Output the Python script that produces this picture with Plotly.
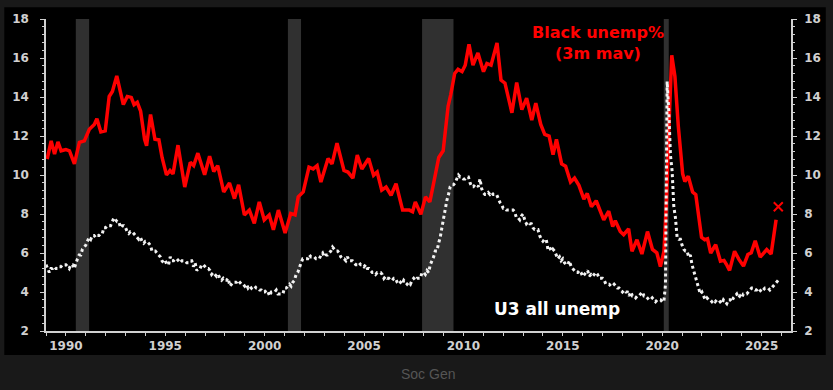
import plotly.graph_objects as go

# ---------------- data ----------------
# Black unemployment rate, 3m moving average, decimal years
black_x = [1989.06, 1989.26, 1989.43, 1989.60, 1989.76, 1990.00, 1990.18, 1990.43, 1990.68, 1990.93,
           1991.18, 1991.43, 1991.56, 1991.76, 1991.98, 1992.18, 1992.34, 1992.56, 1992.68, 1992.89,
           1993.09, 1993.29, 1993.43, 1993.59, 1993.76, 1993.96, 1994.06, 1994.26, 1994.48, 1994.68,
           1994.84, 1995.06, 1995.24, 1995.39, 1995.64, 1995.98, 1996.26, 1996.43, 1996.64, 1996.98,
           1997.23, 1997.44, 1997.64, 1997.94, 1998.23, 1998.48, 1998.69, 1998.98, 1999.23, 1999.48,
           1999.73, 1999.98, 2000.23, 2000.44, 2000.69, 2001.03, 2001.31, 2001.53, 2001.69, 2001.94,
           2002.23, 2002.44, 2002.64, 2002.83, 2003.19, 2003.39, 2003.64, 2003.99, 2004.19, 2004.44,
           2004.66, 2004.89, 2005.23, 2005.48, 2005.66, 2005.89, 2006.11, 2006.36, 2006.61, 2006.94,
           2007.28, 2007.44, 2007.58, 2007.86, 2008.09, 2008.31, 2008.53, 2008.76, 2008.98, 2009.23,
           2009.36, 2009.56, 2009.73, 2009.93, 2010.09, 2010.28, 2010.48, 2010.73, 2011.01, 2011.18,
           2011.39, 2011.69, 2011.89, 2012.09, 2012.44, 2012.68, 2012.94, 2013.18, 2013.44, 2013.64,
           2013.89, 2014.09, 2014.31, 2014.51, 2014.68, 2014.94, 2015.14, 2015.39, 2015.59, 2015.81,
           2016.06, 2016.23, 2016.44, 2016.68, 2017.06, 2017.31, 2017.51, 2017.64, 2017.89, 2018.06,
           2018.31, 2018.48, 2018.73, 2018.98, 2019.26, 2019.51, 2019.73, 2019.91, 2020.09, 2020.22,
           2020.36, 2020.48, 2020.64, 2020.81, 2021.03, 2021.14, 2021.31, 2021.53, 2021.69, 2021.86,
           2021.98, 2022.14, 2022.28, 2022.44, 2022.69, 2022.93, 2023.11, 2023.23, 2023.39, 2023.64,
           2023.86, 2024.09, 2024.31, 2024.48, 2024.68, 2024.93, 2025.09, 2025.26, 2025.48, 2025.73]
black_y = [10.82, 11.75, 11.07, 11.70, 11.24, 11.30, 11.24, 10.57, 11.67, 11.75,
           12.34, 12.59, 12.88, 12.21, 12.26, 14.03, 14.28, 15.08, 14.54, 13.61,
           14.03, 13.98, 13.61, 13.73, 13.27, 11.83, 11.50, 13.10, 11.83, 11.80,
           10.90, 10.01, 10.23, 10.06, 11.53, 9.38, 10.65, 10.48, 11.12, 10.01,
           10.96, 10.18, 10.48, 9.13, 9.59, 8.79, 9.50, 7.95, 8.20, 7.52,
           8.62, 7.70, 7.95, 7.19, 8.20, 7.02, 8.03, 7.95, 8.88, 9.13,
           10.40, 10.31, 10.48, 9.64, 10.85, 10.57, 11.63, 10.23, 10.15, 9.84,
           11.02, 10.31, 10.85, 9.98, 10.15, 9.22, 9.38, 8.96, 9.55, 8.20,
           8.20, 8.12, 8.62, 7.98, 8.88, 8.62, 9.72, 10.90, 11.24, 13.53,
           14.11, 15.21, 15.42, 15.30, 15.63, 16.70, 15.63, 16.26, 15.30, 15.72,
           15.63, 16.77, 14.87, 14.71, 13.19, 14.74, 13.35, 13.94, 12.82, 13.69,
           12.59, 12.08, 12.00, 11.04, 11.83, 10.57, 10.45, 9.64, 9.84, 9.47,
           8.76, 9.05, 8.37, 8.68, 7.70, 8.15, 7.36, 7.65, 7.10, 6.94,
           7.24, 6.09, 6.68, 5.95, 7.10, 6.18, 6.01, 5.30, 6.09, 8.79,
           13.02, 16.14, 15.05, 12.51, 10.06, 9.67, 9.94, 9.13, 8.99, 7.78,
           6.80, 6.68, 6.73, 6.00, 6.43, 5.58, 5.62, 5.42, 5.11, 6.09,
           5.67, 5.33, 5.92, 6.01, 6.63, 5.79, 6.01, 6.18, 5.95, 7.70]

# Latest single-month Black unemployment reading (the "x")
latest_x = [2025.84]
latest_y = [8.37]

# U3 unemployment rate, monthly Jan 1989 .. Nov 2025 (Oct 2025 missing)
u3_years = list(range(1989, 2026))
u3_by_year = [
    [5.4, 5.2, 5.0, 5.2, 5.2, 5.3, 5.2, 5.2, 5.3, 5.3, 5.4, 5.4],
    [5.4, 5.3, 5.2, 5.4, 5.4, 5.2, 5.5, 5.7, 5.9, 5.9, 6.2, 6.3],
    [6.4, 6.6, 6.8, 6.7, 6.9, 6.9, 6.8, 6.9, 6.9, 7.0, 7.0, 7.3],
    [7.3, 7.4, 7.4, 7.4, 7.6, 7.8, 7.7, 7.6, 7.6, 7.3, 7.4, 7.4],
    [7.3, 7.1, 7.0, 7.1, 7.1, 7.0, 6.9, 6.8, 6.7, 6.8, 6.6, 6.5],
    [6.6, 6.6, 6.5, 6.4, 6.1, 6.1, 6.1, 6.0, 5.9, 5.8, 5.6, 5.5],
    [5.6, 5.4, 5.4, 5.8, 5.6, 5.6, 5.7, 5.7, 5.6, 5.5, 5.6, 5.6],
    [5.6, 5.5, 5.5, 5.6, 5.6, 5.3, 5.5, 5.1, 5.2, 5.2, 5.4, 5.4],
    [5.3, 5.2, 5.2, 5.1, 4.9, 5.0, 4.9, 4.8, 4.9, 4.7, 4.6, 4.7],
    [4.6, 4.6, 4.7, 4.3, 4.4, 4.5, 4.5, 4.5, 4.6, 4.5, 4.4, 4.4],
    [4.3, 4.4, 4.2, 4.3, 4.2, 4.3, 4.3, 4.2, 4.2, 4.1, 4.1, 4.0],
    [4.0, 4.1, 4.0, 3.8, 4.0, 4.0, 4.0, 4.1, 3.9, 3.9, 3.9, 3.9],
    [4.2, 4.2, 4.3, 4.4, 4.3, 4.5, 4.6, 4.9, 5.0, 5.3, 5.5, 5.7],
    [5.7, 5.7, 5.7, 5.9, 5.8, 5.8, 5.8, 5.7, 5.7, 5.7, 5.9, 6.0],
    [5.8, 5.9, 5.9, 6.0, 6.1, 6.3, 6.2, 6.1, 6.1, 6.0, 5.8, 5.7],
    [5.7, 5.6, 5.8, 5.6, 5.6, 5.6, 5.5, 5.4, 5.4, 5.5, 5.4, 5.4],
    [5.3, 5.4, 5.2, 5.2, 5.1, 5.0, 5.0, 4.9, 5.0, 5.0, 5.0, 4.9],
    [4.7, 4.8, 4.7, 4.7, 4.6, 4.6, 4.7, 4.7, 4.5, 4.4, 4.5, 4.4],
    [4.6, 4.5, 4.4, 4.5, 4.4, 4.6, 4.7, 4.6, 4.7, 4.7, 4.7, 5.0],
    [5.0, 4.9, 5.1, 5.0, 5.4, 5.6, 5.8, 6.1, 6.1, 6.5, 6.8, 7.3],
    [7.8, 8.3, 8.7, 9.0, 9.4, 9.5, 9.5, 9.6, 9.8, 10.0, 9.9, 9.9],
    [9.8, 9.8, 9.9, 9.9, 9.6, 9.4, 9.4, 9.5, 9.5, 9.4, 9.8, 9.3],
    [9.1, 9.0, 9.0, 9.1, 9.0, 9.1, 9.0, 9.0, 9.0, 8.8, 8.6, 8.5],
    [8.3, 8.3, 8.2, 8.2, 8.2, 8.2, 8.2, 8.1, 7.8, 7.8, 7.7, 7.9],
    [8.0, 7.7, 7.5, 7.6, 7.5, 7.5, 7.3, 7.2, 7.2, 7.2, 6.9, 6.7],
    [6.6, 6.7, 6.7, 6.2, 6.3, 6.1, 6.2, 6.1, 5.9, 5.7, 5.8, 5.6],
    [5.7, 5.5, 5.4, 5.4, 5.6, 5.3, 5.2, 5.1, 5.0, 5.0, 5.1, 5.0],
    [4.8, 4.9, 5.0, 5.1, 4.8, 4.9, 4.8, 4.9, 5.0, 4.9, 4.7, 4.7],
    [4.7, 4.6, 4.4, 4.4, 4.4, 4.3, 4.3, 4.4, 4.3, 4.2, 4.2, 4.1],
    [4.0, 4.1, 4.0, 4.0, 3.8, 4.0, 3.8, 3.8, 3.7, 3.8, 3.8, 3.9],
    [4.0, 3.8, 3.8, 3.7, 3.6, 3.6, 3.7, 3.6, 3.5, 3.6, 3.6, 3.6],
    [3.5, 3.5, 4.4, 14.8, 13.2, 11.0, 10.2, 8.4, 7.8, 6.8, 6.7, 6.7],
    [6.4, 6.2, 6.1, 6.1, 5.8, 5.9, 5.4, 5.1, 4.7, 4.5, 4.2, 3.9],
    [4.0, 3.8, 3.6, 3.7, 3.6, 3.6, 3.5, 3.6, 3.5, 3.6, 3.6, 3.5],
    [3.4, 3.6, 3.5, 3.4, 3.6, 3.6, 3.5, 3.7, 3.8, 3.9, 3.7, 3.8],
    [3.7, 3.9, 3.9, 3.9, 4.0, 4.1, 4.2, 4.2, 4.1, 4.1, 4.2, 4.1],
    [4.0, 4.1, 4.2, 4.2, 4.2, 4.1, 4.2, 4.3, 4.4, None, 4.6],
]

# NBER recessions (start, end) in decimal years
recession_start = [1990.50, 2001.17, 2007.92, 2020.08]
recession_end = [1991.17, 2001.83, 2009.50, 2020.33]

tick_years = [1990, 1995, 2000, 2005, 2010, 2015, 2020, 2025]
tick_labels = ["1990", "1995", "2000", "2005", "2010", "2015", "2020", "2025"]

# ---------------- build ----------------
u3_x, u3_y = [], []
for yr, vals in zip(u3_years, u3_by_year):
    for m, v in enumerate(vals):
        u3_x.append(yr + m / 12.0)
        u3_y.append(v)

AX = "#d0d0d0"
FONT = "DejaVu Sans"

fig = go.Figure()

fig.add_trace(go.Scatter(
    x=u3_x, y=u3_y, mode="lines", name="U3 all unemp",
    line=dict(color="#f2f2f2", width=3, dash="dot"), connectgaps=True,
    yaxis="y2", showlegend=False,
))
fig.add_trace(go.Scatter(
    x=black_x, y=black_y, mode="lines", name="Black unemp% (3m mav)",
    line=dict(color="#ff0000", width=3.5), showlegend=False,
))
fig.add_trace(go.Scatter(
    x=latest_x, y=latest_y, mode="markers", name="Black unemp% latest",
    marker=dict(symbol="x-thin", size=9, line=dict(color="#ff0000", width=2)),
    showlegend=False,
))

shapes = [dict(type="rect", xref="paper", yref="paper", x0=-0.056, x1=1.0467,
               y0=-0.077, y1=1.038, fillcolor="#000000", line=dict(width=0),
               layer="below")]
for s, e in zip(recession_start, recession_end):
    shapes.append(dict(type="rect", xref="x", yref="paper", x0=s, x1=e, y0=0, y1=1,
                       fillcolor="#303030", line=dict(width=0), layer="below"))

yaxis_common = dict(
    range=[2, 18], dtick=2, tick0=2, showgrid=False, zeroline=False,
    showline=True, linecolor=AX, linewidth=1.5,
    ticks="outside", ticklen=4, tickwidth=1.2, tickcolor=AX,
    tickfont=dict(family=FONT, size=12, color=AX, weight="bold"),
    minor=dict(dtick=0.4, ticks="outside", ticklen=2, tickcolor=AX, tickwidth=1, showgrid=False),
)

fig.update_layout(
    width=833, height=390,
    margin=dict(l=45, r=38, t=15, b=59),
    paper_bgcolor="#191919",
    plot_bgcolor="rgba(0,0,0,0)",
    shapes=shapes,
    showlegend=False,
    xaxis=dict(
        range=[1989.0, 2026.48], tickvals=tick_years, ticktext=tick_labels,
        showgrid=False, zeroline=False, showline=True, linecolor=AX, linewidth=1.5,
        ticks="outside", ticklen=3, tickwidth=1.2, tickcolor=AX,
        tickfont=dict(family=FONT, size=12, color=AX, weight="bold"),
        minor=dict(dtick=1, tick0=1990, ticks="outside", ticklen=3, tickcolor=AX, tickwidth=1, showgrid=False),
    ),
    yaxis=dict(side="left", ticklabelstandoff=9, **yaxis_common),
    yaxis2=dict(side="right", overlaying="y", anchor="x", ticklabelstandoff=5, **yaxis_common),
    annotations=[
        dict(text="Black unemp%<br>(3m mav)", xref="paper", yref="paper", x=0.741, y=0.924,
             showarrow=False, xanchor="center", yanchor="middle", align="center",
             font=dict(family=FONT, size=16, color="#ff0000", weight="bold")),
        dict(text="U3 all unemp", xref="paper", yref="paper", x=0.6853, y=0.0719,
             showarrow=False, xanchor="center", yanchor="middle",
             font=dict(family=FONT, size=17, color="#ffffff", weight="bold")),
        dict(text="Soc Gen", xref="paper", yref="paper", x=0.5133, y=-0.137,
             showarrow=False, xanchor="center", yanchor="middle",
             font=dict(family="Liberation Sans", size=14, color="#555555")),
    ],
)

fig.write_html(
    "out.html",
    config={"displayModeBar": False},
    post_script="document.body.style.margin='0px';document.body.style.overflow='hidden';"
                "document.body.style.background='#191919';",
)
